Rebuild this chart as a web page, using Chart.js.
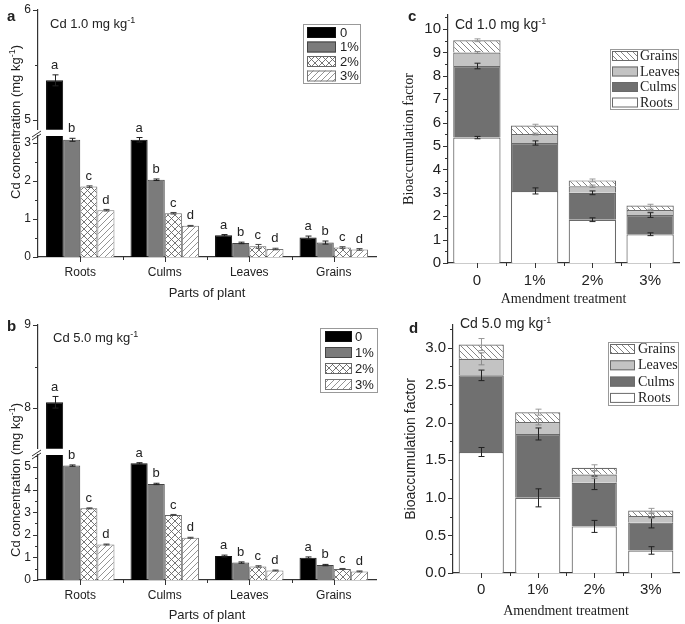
<!DOCTYPE html>
<html>
<head>
<meta charset="utf-8">
<script src="https://cdn.jsdelivr.net/npm/chart.js@4.4.0/dist/chart.umd.min.js"></script>
<style>
body { margin: 0; background: #fff; }
#fig { position: relative; width: 685px; height: 624px; overflow: hidden; font-family: "Liberation Sans", Arial, sans-serif; color: #222; }
#fig canvas { position: absolute; }
.t { position: absolute; white-space: nowrap; line-height: 1; }
.sup { font-size: 9px; position: relative; top: -5px; }
.rot { transform: translate(-50%, -50%) rotate(-90deg); }
</style>
</head>
<body>
<div id="fig">
  <canvas id="aLo" width="385" height="200" style="left:0;top:110px"></canvas>
  <canvas id="aUp" width="385" height="139" style="left:0;top:0"></canvas>
  <canvas id="bLo" width="385" height="194" style="left:0;top:430px"></canvas>
  <canvas id="bUp" width="385" height="146" style="left:0;top:312px"></canvas>
  <canvas id="cChart" width="290" height="310" style="left:395px;top:0"></canvas>
  <canvas id="dChart" width="290" height="314" style="left:395px;top:310px"></canvas>

  <div class="t" style="left:7px;top:8px;font-size:15px;font-weight:bold">a</div>
  <div class="t" style="left:50px;top:17px;font-size:13px">Cd 1.0 mg kg<span class="sup">-1</span></div>
  <div class="t rot" style="left:15px;top:122px;font-size:13px">Cd concentration (mg kg<span class="sup">-1</span>)</div>

  <div class="t" style="left:7px;top:318px;font-size:15px;font-weight:bold">b</div>
  <div class="t" style="left:53px;top:331px;font-size:13px">Cd 5.0 mg kg<span class="sup">-1</span></div>
  <div class="t rot" style="left:15px;top:480px;font-size:13px">Cd concentration (mg kg<span class="sup">-1</span>)</div>

  <div class="t" style="left:408px;top:8px;font-size:15px;font-weight:bold">c</div>
  <div class="t" style="left:455px;top:17px;font-size:14px">Cd 1.0 mg kg<span class="sup">-1</span></div>

  <div class="t" style="left:409px;top:320px;font-size:15px;font-weight:bold">d</div>
  <div class="t" style="left:460px;top:316px;font-size:14px">Cd 5.0 mg kg<span class="sup">-1</span></div>
</div>

<script>
const parts = ['Roots', 'Culms', 'Leaves', 'Grains'];
const treatments = ['0', '1%', '2%', '3%'];
const sigLetters = ['a', 'b', 'c', 'd'];

// panel a - Cd 1.0 mg/kg soil, concentration per plant part (one array per treatment)
const concA0 = [5.36, 3.08, 0.57, 0.51];
const concA1 = [3.08, 2.03, 0.37, 0.38];
const concA2 = [1.85, 1.15, 0.28, 0.25];
const concA3 = [1.23, 0.82, 0.21, 0.20];
const errA0 = [0.05, 0.06, 0.02, 0.04];
const errA1 = [0.04, 0.02, 0.02, 0.04];
const errA2 = [0.02, 0.02, 0.05, 0.02];
const errA3 = [0.02, 0.01, 0.02, 0.02];

// panel b - Cd 5.0 mg/kg soil
const concB0 = [8.07, 5.16, 1.06, 0.98];
const concB1 = [5.06, 4.25, 0.77, 0.66];
const concB2 = [3.17, 2.88, 0.60, 0.49];
const concB3 = [1.57, 1.87, 0.42, 0.38];
const errB0 = [0.07, 0.03, 0.04, 0.04];
const errB1 = [0.03, 0.03, 0.03, 0.03];
const errB2 = [0.02, 0.02, 0.03, 0.02];
const errB3 = [0.02, 0.02, 0.02, 0.02];

// panel c - bioaccumulation factor, Cd 1.0 (stacked by part)
const bafC_roots = [5.36, 3.08, 1.85, 1.23];
const bafC_culms = [3.06, 2.05, 1.15, 0.82];
const bafC_leaves = [0.58, 0.38, 0.28, 0.21];
const bafC_grains = [0.52, 0.37, 0.25, 0.20];
const errC_roots = [0.05, 0.13, 0.08, 0.06];
const errC_culms = [0.12, 0.09, 0.08, 0.10];
const errC_leaves = [0.04, 0.04, 0.05, 0.04];
const errC_grains = [0.06, 0.05, 0.06, 0.05];

// panel d - bioaccumulation factor, Cd 5.0
const bafD_roots = [1.61, 1.00, 0.62, 0.30];
const bafD_culms = [1.02, 0.85, 0.58, 0.37];
const bafD_leaves = [0.22, 0.16, 0.11, 0.09];
const bafD_grains = [0.19, 0.13, 0.09, 0.07];
const errD_roots = [0.06, 0.12, 0.08, 0.05];
const errD_culms = [0.07, 0.08, 0.09, 0.07];
const errD_leaves = [0.08, 0.04, 0.05, 0.03];
const errD_grains = [0.08, 0.04, 0.04, 0.03];

Chart.defaults.font.family = '"Liberation Sans", Arial, sans-serif';
Chart.defaults.color = '#222';

function hatch(kind, color, size) {
  const c = document.createElement('canvas');
  c.width = size; c.height = size;
  const g = c.getContext('2d');
  g.fillStyle = '#fff';
  g.fillRect(0, 0, size, size);
  g.strokeStyle = color;
  g.lineWidth = 0.9;
  g.beginPath();
  for (const k of [-size, 0, size]) {
    if (kind !== '\\') { g.moveTo(k, size); g.lineTo(k + size, 0); }
    if (kind !== '/') { g.moveTo(k, 0); g.lineTo(k + size, size); }
  }
  g.stroke();
  return g.createPattern(c, 'repeat');
}

const fillsAB = ['#000', '#7b7b7b', hatch('x', '#666', 7), hatch('/', '#888', 6)];
const bordersAB = ['#111', '#444', '#666', '#777'];
const errColorsAB = ['#222', '#222', '#444', '#444'];

const partFills = ['#fff', '#707070', '#c3c3c3', hatch('\\', '#777', 6)];
const partErrColors = ['#222', '#222', '#8a8a8a', '#999'];

// tick marks: long for labelled ticks, short for the rest
const tickMarks = {
  id: 'tickMarks',
  afterDraw(chart) {
    const {ctx, scales: {x, y}} = chart;
    ctx.save();
    ctx.strokeStyle = '#333';
    ctx.lineWidth = 1;
    ctx.beginPath();
    y.ticks.forEach(t => {
      const py = Math.round(y.getPixelForValue(t.value)) + 0.5;
      const len = t.label === '' ? 3 : 5;
      ctx.moveTo(y.right - len, py);
      ctx.lineTo(y.right, py);
    });
    if (x.options.display) {
      const n = chart.data.labels.length;
      const w = (x.right - x.left) / n;
      for (let i = 0; i < n; i++) {
        const cx = Math.round(x.getPixelForValue(i)) + 0.5;
        ctx.moveTo(cx, x.top); ctx.lineTo(cx, x.top + 5);
        if (i > 0) {
          const bx = Math.round(x.left + i * w) + 0.5;
          ctx.moveTo(bx, x.top); ctx.lineTo(bx, x.top + 3);
        }
      }
    }
    ctx.stroke();
    ctx.restore();
  }
};

const breakMarks = {
  id: 'breakMarks',
  afterDraw(chart) {
    const {ctx, chartArea: {left, top}} = chart;
    ctx.save();
    ctx.strokeStyle = '#333';
    ctx.lineWidth = 1;
    ctx.beginPath();
    ctx.moveTo(left - 6, top + 1); ctx.lineTo(left + 3, top - 5);
    ctx.moveTo(left - 6, top + 4); ctx.lineTo(left + 3, top - 2);
    ctx.stroke();
    ctx.restore();
  }
};

// error bars (+ optional significance letters) on top of each bar / segment
function errPlugin(errs, colors, letters) {
  return {
    id: 'errBars',
    afterDatasetsDraw(chart) {
      const {ctx, chartArea: ca, scales: {y}} = chart;
      ctx.save();
      chart.data.datasets.forEach((ds, di) => {
        chart.getDatasetMeta(di).data.forEach((el, i) => {
          if (el.y < ca.top - 0.5 || el.y > ca.bottom - 0.5) return;
          const d = y.getPixelForValue(0) - y.getPixelForValue(errs[di][i]);
          const x = Math.round(el.x) + 0.5;
          ctx.strokeStyle = colors[di];
          ctx.lineWidth = 1;
          ctx.beginPath();
          ctx.moveTo(x, el.y - d); ctx.lineTo(x, el.y + d);
          ctx.moveTo(x - 3, el.y - d); ctx.lineTo(x + 3, el.y - d);
          ctx.moveTo(x - 3, el.y + d); ctx.lineTo(x + 3, el.y + d);
          ctx.stroke();
          if (letters) {
            ctx.fillStyle = '#222';
            ctx.font = '13px "Liberation Sans", Arial, sans-serif';
            ctx.textAlign = 'center';
            ctx.textBaseline = 'bottom';
            ctx.fillText(letters[di], el.x, el.y - d - 3);
          }
        });
      });
      ctx.restore();
    }
  };
}

function boxLegend(o) {
  return {
    id: 'boxLegend',
    afterDraw(chart) {
      const ctx = chart.ctx;
      ctx.save();
      ctx.strokeStyle = '#999';
      ctx.lineWidth = 1;
      ctx.strokeRect(o.x + 0.5, o.y + 0.5, o.w, o.h);
      ctx.font = o.font;
      ctx.textBaseline = 'middle';
      ctx.textAlign = 'left';
      o.order.forEach((di, r) => {
        const ds = chart.data.datasets[di];
        const sy = o.rowY + r * o.pitch;
        ctx.fillStyle = ds.backgroundColor;
        ctx.fillRect(o.sx, sy, o.sw, o.sh);
        ctx.strokeStyle = ds.borderColor;
        ctx.strokeRect(o.sx + 0.5, sy + 0.5, o.sw - 1, o.sh - 1);
        ctx.fillStyle = '#222';
        ctx.fillText(ds.label, o.tx, sy + o.sh / 2 + 0.5);
      });
      ctx.restore();
    }
  };
}

function concDatasets(series) {
  return treatments.map((t, i) => ({
    label: t,
    data: series[i],
    backgroundColor: fillsAB[i],
    borderColor: bordersAB[i],
    borderWidth: 1,
    categoryPercentage: 0.81,
    barPercentage: 1
  }));
}

function yAxis(min, max, step, width, fontSize, fmt) {
  return {
    min: min, max: max,
    afterFit: s => { s.width = width; },
    grid: { display: false, tickLength: 5 },
    border: { color: '#333', width: 1.2 },
    ticks: {
      stepSize: step, includeBounds: false, autoSkip: false, padding: 2,
      font: { size: fontSize }, color: '#222',
      callback: fmt
    }
  };
}

const intLabel = v => Number.isInteger(v) ? String(v) : '';
const halfLabel = v => Number.isInteger(Math.round(v * 1000) / 500) ? v.toFixed(1) : '';

function concUpper(id, series, errs, min, max, pad, legend) {
  return new Chart(document.getElementById(id), {
    type: 'bar',
    data: { labels: parts, datasets: concDatasets(series) },
    options: {
      responsive: false, animation: false,
      layout: { padding: pad },
      plugins: { legend: { display: false }, tooltip: { enabled: false } },
      scales: {
        x: { display: false },
        y: yAxis(min, max, 0.5, 38, 12, intLabel)
      }
    },
    plugins: [tickMarks, errPlugin(errs, errColorsAB, sigLetters), boxLegend(legend)]
  });
}

function concLower(id, series, errs, max, pad, xHeight, titlePad) {
  return new Chart(document.getElementById(id), {
    type: 'bar',
    data: { labels: parts, datasets: concDatasets(series) },
    options: {
      responsive: false, animation: false,
      layout: { padding: pad },
      plugins: { legend: { display: false }, tooltip: { enabled: false } },
      scales: {
        x: {
          afterFit: s => { s.height = xHeight; },
          grid: { display: false, tickLength: 5 },
          border: { color: '#333', width: 1.2 },
          ticks: { padding: 3, font: { size: 12 }, color: '#222' },
          title: { display: true, text: 'Parts of plant', font: { size: 13 }, color: '#222', padding: { top: 0, bottom: titlePad } }
        },
        y: yAxis(0, max, 0.5, 38, 12, intLabel)
      }
    },
    plugins: [tickMarks, breakMarks, errPlugin(errs, errColorsAB, sigLetters)]
  });
}

function bafChart(id, series, errs, o) {
  return new Chart(document.getElementById(id), {
    type: 'bar',
    data: {
      labels: treatments,
      datasets: parts.map((p, i) => ({
        label: p,
        data: series[i],
        backgroundColor: partFills[i],
        borderColor: '#6a6a6a',
        borderWidth: 1.2,
        categoryPercentage: o.catPct,
        barPercentage: 1
      }))
    },
    options: {
      responsive: false, animation: false,
      layout: { padding: { top: 15, right: 6, left: 0, bottom: 0 } },
      plugins: { legend: { display: false }, tooltip: { enabled: false } },
      scales: {
        x: {
          stacked: true,
          afterFit: s => { s.height = o.xHeight; },
          grid: { display: false, tickLength: 5 },
          border: { color: '#333', width: 1.2 },
          ticks: { padding: o.tickPad, font: { size: 15 }, color: '#222' },
          title: {
            display: true, text: 'Amendment treatment', color: '#222',
            font: { size: 14, family: '"Liberation Serif", "Times New Roman", serif' },
            padding: { top: 0, bottom: o.titlePad }
          }
        },
        y: Object.assign(yAxis(0, o.max, o.step, o.yWidth, 15, o.fmt), {
          stacked: true,
          title: {
            display: true, text: 'Bioaccumulation factor', color: '#222',
            font: { size: 14, family: o.yTitleFamily },
            padding: { top: o.yTitleOffset, bottom: 0 }
          }
        })
      }
    },
    plugins: [tickMarks, errPlugin(errs, partErrColors, null), boxLegend(o.legend)]
  });
}

// panel a (upper canvas bottom padding 8 covers the half-height of the lowest tick label)
concUpper('aUp', [concA0, concA1, concA2, concA3], [errA0, errA1, errA2, errA3], 4.91, 6,
  { top: 10, bottom: 8, left: 0, right: 9 },
  { x: 303, y: 24, w: 57, h: 59, order: [0, 1, 2, 3], rowY: 27, pitch: 14.5, sx: 307, sw: 29, sh: 11, tx: 340, font: '13px "Liberation Sans", Arial, sans-serif' });
concLower('aLo', [concA0, concA1, concA2, concA3], [errA0, errA1, errA2, errA3], 3.18,
  { top: 26, bottom: 0, left: 0, right: 9 }, 53, 9);

// panel b
concUpper('bUp', [concB0, concB1, concB2, concB3], [errB0, errB1, errB2, errB3], 7.51, 9,
  { top: 13, bottom: 8, left: 0, right: 9 },
  { x: 320, y: 16, w: 57, h: 64, order: [0, 1, 2, 3], rowY: 19, pitch: 16, sx: 325, sw: 27, sh: 11, tx: 355, font: '13px "Liberation Sans", Arial, sans-serif' });
concLower('bLo', [concB0, concB1, concB2, concB3], [errB0, errB1, errB2, errB3], 5.53,
  { top: 25, bottom: 0, left: 0, right: 9 }, 44, 1);

// panel c
bafChart('cChart', [bafC_roots, bafC_culms, bafC_leaves, bafC_grains],
  [errC_roots, errC_culms, errC_leaves, errC_grains], {
    catPct: 0.82, max: 10.6, step: 0.5, fmt: intLabel, yWidth: 53, xHeight: 47, tickPad: 4, titlePad: 2,
    yTitleFamily: '"Liberation Serif", "Times New Roman", serif', yTitleOffset: 6,
    legend: { x: 215, y: 49, w: 68, h: 60, order: [3, 2, 1, 0], rowY: 51, pitch: 15.5, sx: 217, sw: 26, sh: 10, tx: 245, font: '14px "Liberation Serif", "Times New Roman", serif' }
  });

// panel d
bafChart('dChart', [bafD_roots, bafD_culms, bafD_leaves, bafD_grains],
  [errD_roots, errD_culms, errD_leaves, errD_grains], {
    catPct: 0.8, max: 3.3, step: 0.25, fmt: halfLabel, yWidth: 58, xHeight: 51, tickPad: 3, titlePad: 4,
    yTitleFamily: '"Liberation Sans", Arial, sans-serif', yTitleOffset: 8,
    legend: { x: 213, y: 32, w: 70, h: 63, order: [3, 2, 1, 0], rowY: 34, pitch: 16.3, sx: 215, sw: 25, sh: 10, tx: 243, font: '14px "Liberation Serif", "Times New Roman", serif' }
  });
</script>
</body>
</html>
